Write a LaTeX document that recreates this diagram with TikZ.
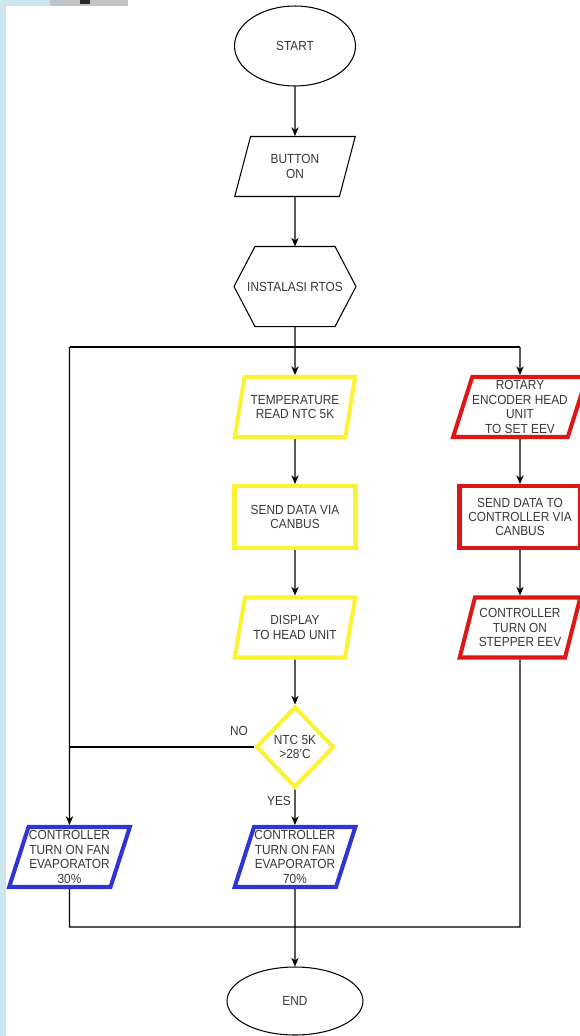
\documentclass[tikz,border=0pt]{standalone}
\usepackage{fontspec}
\setmainfont[FakeStretch=0.9]{Liberation Sans}
\usetikzlibrary{shapes.geometric,arrows.meta}
\definecolor{boxyellow}{RGB}{250,242,50}
\definecolor{boxred}{RGB}{222,22,22}
\definecolor{boxblue}{RGB}{48,52,210}
\definecolor{txtgray}{RGB}{55,55,55}
\definecolor{bgblue}{RGB}{206,230,238}
\definecolor{bggray}{RGB}{192,196,198}
\begin{document}
\begin{tikzpicture}[x=0.02cm,y=-0.02cm,line width=0.6pt,
    every node/.style={font=\fontsize{7.5}{8.2}\selectfont,text=txtgray,align=center,inner sep=0pt},
    terminal/.style={ellipse,draw},
    io/.style={trapezium,trapezium left angle=70,trapezium right angle=110,
        trapezium stretches=true,draw,minimum width=2.42cm,minimum height=1.2cm},
    proc/.style={rectangle,draw,minimum width=2.42cm,minimum height=1.24cm},
    yel/.style={draw=boxyellow,line width=2.3pt},
    redbox/.style={draw=boxred,line width=2.3pt},
    bluebox/.style={draw=boxblue,line width=2.3pt},
    arr/.style={-{Stealth[length=5pt,width=4.2pt]}}]
    \useasboundingbox (0,0) rectangle (579,1036);
    % screenshot edge
    \fill[bgblue] (0,0) rectangle (6,1036);
    \fill[bgblue] (0,0) rectangle (50,6);
    \fill[bggray] (50,0) rectangle (128,6);
    \fill[black!85] (80,0) rectangle (90,4);

    % middle column
    \node[terminal,minimum width=2.42cm,minimum height=1.6cm] (start) at (295,46) {START};
    \node[io] (button) at (295,166.5) {BUTTON\\ON};
    \node[minimum width=2.42cm,minimum height=1.58cm] (rtos) at (295,286.5) {INSTALASI RTOS};
    \draw (rtos.west) -- ([xshift=0.42cm]rtos.north west) -- ([xshift=-0.42cm]rtos.north east)
        -- (rtos.east) -- ([xshift=-0.42cm]rtos.south east) -- ([xshift=0.42cm]rtos.south west) -- cycle;
    \node[io,yel] (temp) at (295,407) {TEMPERATURE\\READ NTC 5K};
    \node[proc,yel] (senddata) at (295,517) {SEND DATA VIA\\CANBUS};
    \node[io,yel] (display) at (295,627.5) {DISPLAY\\TO HEAD UNIT};
    \node[diamond,yel,minimum width=1.56cm,minimum height=1.62cm] (ntc) at (295,747) {NTC 5K\\>28'C};
    \node[io,bluebox] (fan70) at (295,857) {CONTROLLER\\TURN ON FAN\\EVAPORATOR\\70\%};
    \node[terminal,minimum width=2.72cm,minimum height=1.36cm] (end) at (295,1001) {END};

    % right column
    \node[io,redbox] (rotary) at (520,407) {ROTARY\\ENCODER HEAD\\UNIT\\TO SET EEV};
    \node[proc,redbox] (sendctrl) at (520,517) {SEND DATA TO\\CONTROLLER VIA\\CANBUS};
    \node[io,redbox] (stepper) at (520,627.5) {CONTROLLER\\TURN ON\\STEPPER EEV};

    % left column
    \node[io,bluebox] (fan30) at (69.5,857) {CONTROLLER\\TURN ON FAN\\EVAPORATOR\\30\%};

    \node (no) at (239,731) {NO};
    \node (yes) at (279,801) {YES};

    \coordinate (topL) at (69.5,347);
    \coordinate (topR) at (520,347);
    \coordinate (botL) at (69.5,927);
    \coordinate (botR) at (520,927);

    \draw[arr] (start) -- (button);
    \draw[arr] (button) -- (rtos.north);
    \draw[arr] (rtos.south) -- (temp.north);
    \draw (topL) -- (topR);
    \draw[arr] (topR) -- (rotary.north);
    \draw[arr] (topL) -- (fan30.north);
    \draw[arr] (temp) -- (senddata);
    \draw[arr] (senddata) -- (display);
    \draw[arr] (display) -- (ntc);
    \draw (ntc.west) -- (ntc.west -| topL);
    \draw[arr] (ntc) -- (fan70);
    \draw[arr] (rotary) -- (sendctrl);
    \draw[arr] (sendctrl) -- (stepper);
    \draw (stepper.south) -- (botR) -- (botL) -- (fan30.south);
    \draw[arr] (fan70) -- (end);
\end{tikzpicture}
\end{document}
